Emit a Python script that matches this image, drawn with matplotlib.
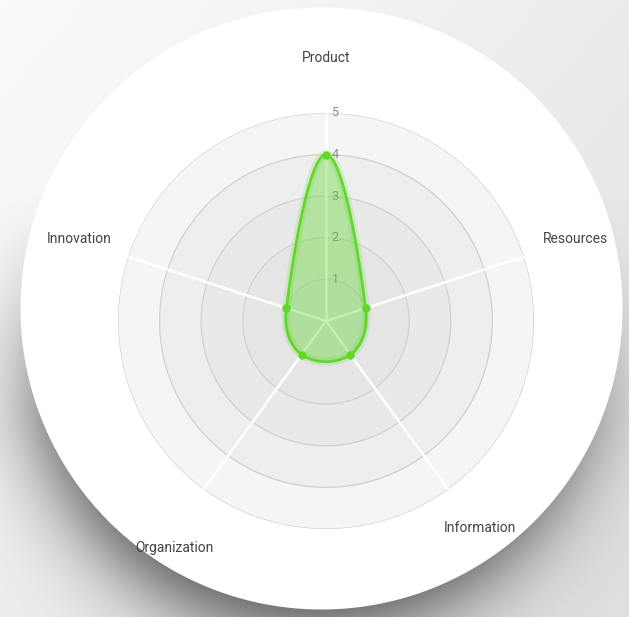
import numpy as np
import matplotlib
matplotlib.use("Agg")
import matplotlib.pyplot as plt

# ---------------- data ----------------
categories = ["Product", "Resources", "Information", "Organization", "Innovation"]
values = [4, 1, 1, 1, 1]
ticks = [1, 2, 3, 4, 5]
rmax = 5

W, H = 629, 617
fig = plt.figure(figsize=(W / 100, H / 100), dpi=100)

# ---------------- background (gradient, shadow, white disc) ----------------
bg = fig.add_axes([0, 0, 1, 1])
yy, xx = np.mgrid[0:H, 0:W].astype(float)
base = 0.985 - 0.06 * xx / W - 0.05 * yy / H
cx, cy, R = 321.0, 308.0, 301.0
scx, scy, sR = 312.0, 350.0, 280.0
ds = np.hypot(xx - scx, yy - scy)
shadow = 1.0 / (1.0 + np.exp((ds - sR) / 25.0))
strength = np.clip(0.25 + (yy - 250.0) / 230.0, 0, 1)
img = base * (1 - 0.68 * shadow * strength)
d = np.hypot(xx - cx, yy - cy)
disc = np.clip(R - d + 0.5, 0, 1)
img = img * (1 - disc) + 1.0 * disc
bg.imshow(np.dstack([img, img, img]), extent=[0, W, H, 0], interpolation="bilinear")
bg.set_xlim(0, W)
bg.set_ylim(H, 0)
bg.axis("off")

# ---------------- radar axes ----------------
ccx, ccy, rad = 326.0, 321.0, 208.0
ax = fig.add_axes([(ccx - rad) / W, (H - ccy - rad) / H, 2 * rad / W, 2 * rad / H],
                  projection="polar")
ax.set_theta_offset(np.pi / 2)
ax.set_theta_direction(-1)
ax.set_ylim(0, rmax)
ax.patch.set_visible(False)
ax.spines["polar"].set_visible(False)
ax.grid(False)
ax.set_xticks([])
ax.set_yticks([])

n = len(categories)
angles = np.arange(n) * 2 * np.pi / n
full = np.linspace(0, 2 * np.pi, 361)

ring_colors = ["#e2e2e2", "#e5e5e5", "#e9e9e9", "#eeeeee", "#f5f5f5"]
prev = 0
for t, c in zip(ticks, ring_colors):
    ax.fill_between(full, prev, t, color=c, lw=0, zorder=1)
    prev = t
for t in ticks:
    ax.plot(full, np.full_like(full, t), color="#d0d0d0", lw=0.9, zorder=2)

for a in angles:
    ax.plot([a, a], [0, rmax], color="white", lw=1.8, zorder=3, solid_capstyle="butt")

for t in ticks:
    ax.annotate(str(t), xy=(0, t), xytext=(4, 0), textcoords="offset points",
                ha="left", va="center", fontsize=9, color="#8a8a8a",
                family="Roboto", zorder=4)

label_off = [(0, 0.5), (0, 1), (0, 3.5), (2, -11), (2, 1)]
for a, lab, off in zip(angles, categories, label_off):
    ax.annotate(lab, xy=(a, 6.3), xytext=off, textcoords="offset points",
                ha="center", va="center", fontsize=10, color="#444444",
                family="Roboto", annotation_clip=False, zorder=5)

# ---------------- smooth closed spline (Chart.js-style, tension 0.4) ----------------
vals = np.array(values, float)
px = vals * np.cos(angles)
py = vals * np.sin(angles)
tension = 0.4
cp1 = []
cp2 = []
for i in range(n):
    p0 = np.array([px[i - 1], py[i - 1]])
    p1 = np.array([px[i], py[i]])
    p2 = np.array([px[(i + 1) % n], py[(i + 1) % n]])
    d01 = np.hypot(*(p1 - p0))
    d12 = np.hypot(*(p2 - p1))
    fa = tension * d01 / (d01 + d12)
    fb = tension * d12 / (d01 + d12)
    cp1.append(p1 - fa * (p2 - p0))
    cp2.append(p1 + fb * (p2 - p0))
sx, sy = [], []
tt = np.linspace(0, 1, 60, endpoint=False)
for i in range(n):
    j = (i + 1) % n
    P0 = np.array([px[i], py[i]])
    P3 = np.array([px[j], py[j]])
    P1 = cp2[i]
    P2 = cp1[j]
    b = ((1 - tt) ** 3)[:, None] * P0 + (3 * (1 - tt) ** 2 * tt)[:, None] * P1 \
        + (3 * (1 - tt) * tt ** 2)[:, None] * P2 + (tt ** 3)[:, None] * P3
    sx.extend(b[:, 0])
    sy.extend(b[:, 1])
sx.append(sx[0])
sy.append(sy[0])
sx = np.array(sx)
sy = np.array(sy)
th = np.unwrap(np.arctan2(sy, sx))
rr = np.hypot(sx, sy)

green = "#5fd82a"
ax.fill(th, rr, color=green, alpha=0.38, lw=0, zorder=6)
ax.plot(th, rr, color=green, lw=6, alpha=0.18, zorder=7, solid_joinstyle="round")
ax.plot(th, rr, color=green, lw=1.9, zorder=8, solid_joinstyle="round")
ax.plot(angles, vals, "o", color=green, markersize=6, zorder=9, markeredgewidth=0)

fig.savefig("out.png", dpi=100)
